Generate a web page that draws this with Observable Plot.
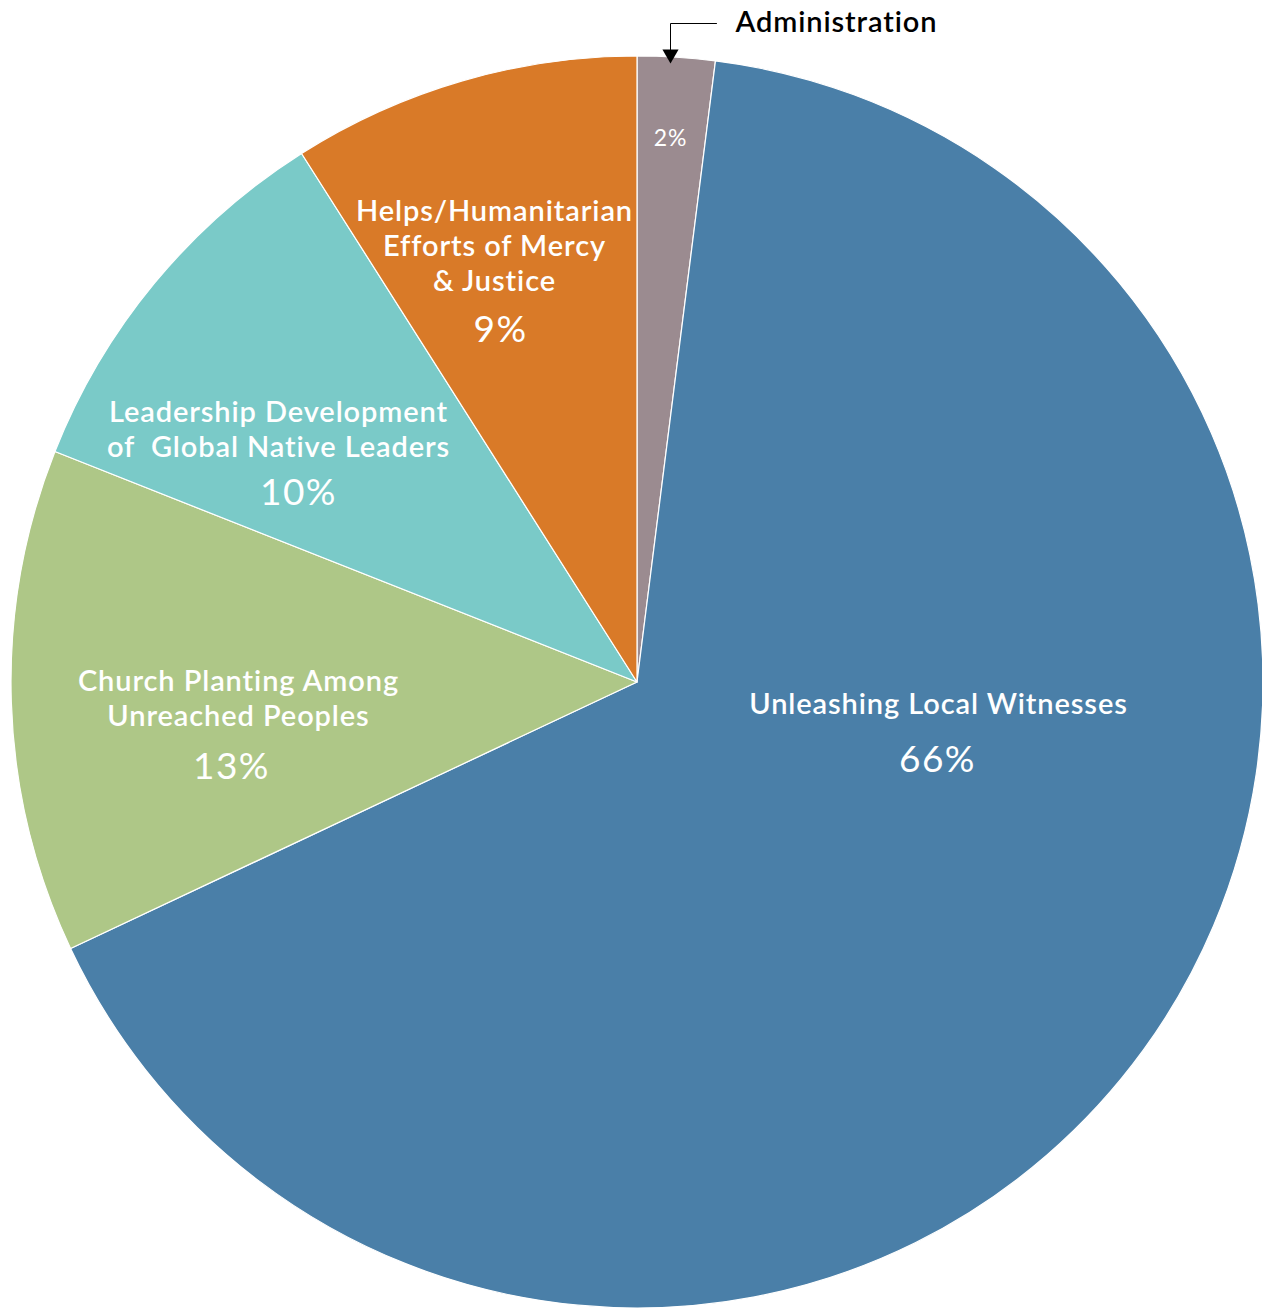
<!DOCTYPE html>
<html><head><meta charset="utf-8">
<script src="https://cdn.jsdelivr.net/npm/d3@7"></script>
<script src="https://cdn.jsdelivr.net/npm/@observablehq/plot@0.6"></script>
<style>
html,body{margin:0;padding:0;background:#fff}
#chart svg{display:block}
#chart g[font-weight="600"] text{letter-spacing:0.9px}
#chart g[font-weight="400"] text{letter-spacing:0.04em}
</style>
</head><body><div id="chart"></div>
<script>
// ---- data ----
const categories = ["Administration", "Unleashing Local Witnesses", "Church Planting Among Unreached Peoples", "Leadership Development of Global Native Leaders", "Helps/Humanitarian Efforts of Mercy & Justice"];
const values = [2, 66, 13, 10, 9];
const nameLabels = ["", "Unleashing Local Witnesses", "Church Planting Among\nUnreached Peoples", "Leadership Development\nof  Global Native Leaders", "Helps/Humanitarian\nEfforts of Mercy\n& Justice"];
const pctLabels = values.map(v => v + "%");
const calloutLabel = "Administration";

// ---- style / layout ----
const colors = ["#9b8b90", "#4a7fa8", "#aec787", "#7acac8", "#d97a28"];
const W = 1262, H = 1310, CX = 637, CY = 682, R = 626;
// label anchors as offsets from pie centre (px)
const namePos = [null, [301, 22], [-399, -1], [-359, -270], [-143, -471]];
const pctPos = [[33, -544], [300, 78], [-406, 85], [-339, -189], [-137, -352]];
const pctSize = [23, 37, 37, 37, 37];
const FONT = "Lato, 'Noto Sans', sans-serif";
const NAME_SIZE = 29;

const arcs = d3.pie().sort(null).value(d => d)(values);

function pieMark(index, scales) {
  const sx = scales && scales.x ? scales.x : (v => v);
  const sy = scales && scales.y ? scales.y : (v => v);
  const cx = sx(CX), cy = sy(CY), r = sx(CX + R) - sx(CX);
  const arc = d3.arc().innerRadius(0).outerRadius(r);
  const g = d3.create("svg:g").attr("transform", `translate(${cx},${cy})`);
  g.selectAll("path").data(arcs).join("path")
    .attr("d", arc)
    .attr("fill", (d, i) => colors[i])
    .attr("stroke", "#fff")
    .attr("stroke-width", 1.2)
    .attr("stroke-linejoin", "round");
  return g.node();
}

const nameRows = categories.map((c, i) => ({c, text: nameLabels[i], pos: namePos[i]})).filter(d => d.pos);
const pctRows = categories.map((c, i) => ({c, text: pctLabels[i], pos: pctPos[i], size: pctSize[i]}));

const leader = [[716, 23], [670, 23], [670, 52]];

const chart = Plot.plot({
  width: W, height: H, margin: 0,
  style: {fontFamily: FONT, background: "#fff"},
  x: {domain: [0, W], range: [0, W], axis: null},
  y: {domain: [0, H], range: [0, H], axis: null},
  marks: [
    pieMark,
    Plot.text(nameRows, {
      x: d => CX + d.pos[0], y: d => CY + d.pos[1] - NAME_SIZE * 0.36 - 5,
      text: "text", lineAnchor: "top", lineHeight: 35 / NAME_SIZE,
      fill: "#fff", fontSize: NAME_SIZE, fontWeight: 600, fontFamily: FONT
    }),
    Plot.text(pctRows, {
      x: d => CX + d.pos[0], y: d => CY + d.pos[1],
      text: "text", lineAnchor: "middle",
      fill: "#fff", fontSize: d => d.size, fontWeight: 400, fontFamily: FONT
    }),
    Plot.line(leader, {x: d => d[0], y: d => d[1], stroke: "#000", strokeWidth: 1}),
    Plot.dot([[670, 53.7]], {x: d => d[0], y: d => d[1], symbol: "triangle", rotate: 180, r: 6, fill: "#000", stroke: "none"}),
    Plot.text([calloutLabel], {
      x: () => 735, y: () => 22, text: d => d, textAnchor: "start", lineAnchor: "middle",
      fill: "#000", fontSize: 29, fontWeight: 600, fontFamily: FONT
    })
  ]
});
document.getElementById("chart").append(chart);
</script>
</body></html>
